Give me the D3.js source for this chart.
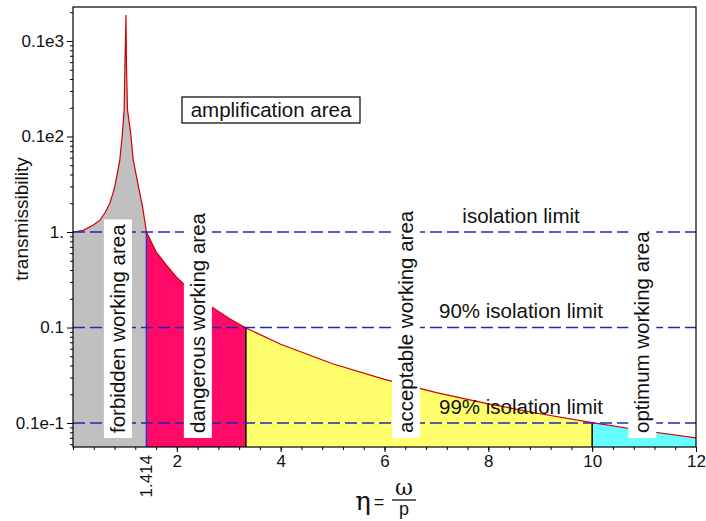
<!DOCTYPE html>
<html>
<head>
<meta charset="utf-8">
<script src="https://cdn.jsdelivr.net/npm/d3@7/dist/d3.min.js"></script>
<style>
  body { margin: 0; background: #fff; }
  svg { display: block; font-family: "Liberation Sans", Arial, sans-serif; }
</style>
</head>
<body>
<div id="chart"></div>
<script>
// frequency ratio eta = omega / p and transmissibility
const eta = [0, 0.2, 0.4, 0.52, 0.62, 0.71, 0.8, 0.9, 0.95, 0.985, 1.0, 1.02,
  1.03, 1.05, 1.11, 1.16, 1.26, 1.34, 1.414, 1.6, 1.8, 2.0, 2.5, 3.0, 3.33,
  4, 5, 6, 7, 8, 9, 10, 11, 12];
const transmissibility = [1.0, 1.04, 1.19, 1.33, 1.6, 2.0, 2.9, 5.6, 10.5, 19, 55, 187,
  55, 19, 10.9, 5.7, 3.0, 1.83, 1.0, 0.62, 0.45, 0.333, 0.19, 0.125, 0.099,
  0.0667, 0.0417, 0.0286, 0.0208, 0.0159, 0.0125, 0.0101, 0.0083, 0.0070];

// working areas: boundaries on the eta axis
const areaBounds = [0, 1.414, 3.33, 10, 12];
const areaNames = ["forbidden working area", "dangerous working area", "acceptable working area", "optimum working area"];
const areaLabelEta = [1.0, 2.54, 6.55, 11.1];

const limitValues = [1, 0.1, 0.01];
const limitNames = ["isolation limit", "90% isolation limit", "99% isolation limit"];

const xTickValues = [2, 4, 6, 8, 10, 12];
const yTickValues = [0.01, 0.1, 1, 10, 100];
const yTickLabels = ["0.1e-1", "0.1", "1.", "0.1e2", "0.1e3"];

const areaColors = ["#c0c0c0", "#ff0a66", "#ffff6e", "#66ffff"];
const dividerColors = ["#3333cc", "#000", "#000"];

const W = 706, H = 521;
const mLeft = 73, mRight = 696, mTop = 7, mBottom = 447;

const svg = d3.select("#chart").append("svg").attr("width", W).attr("height", H);

const x = d3.scaleLinear().domain([0, 12]).range([mLeft, mRight]);
const y = d3.scaleLog().domain([0.00561, 227]).range([mBottom, mTop]);

const pts = eta.map((e, i) => [e, transmissibility[i]]);

svg.append("defs").append("clipPath").attr("id", "plotClip")
  .append("rect").attr("x", mLeft).attr("y", mTop).attr("width", mRight - mLeft).attr("height", mBottom - mTop);

const plot = svg.append("g").attr("clip-path", "url(#plotClip)");

const area = d3.area().x(d => x(d[0])).y0(mBottom).y1(d => y(d[1]));
areaColors.forEach((c, i) => {
  const seg = pts.filter(d => d[0] >= areaBounds[i] && d[0] <= areaBounds[i + 1]);
  plot.append("path").datum(seg).attr("d", area).attr("fill", c);
});

// dividers between areas, up to the curve
[1, 2, 3].forEach((b, i) => {
  const e = areaBounds[b];
  const p = pts.find(d => d[0] === e);
  plot.append("line")
    .attr("x1", x(e)).attr("x2", x(e))
    .attr("y1", mBottom).attr("y2", y(p[1]))
    .attr("stroke", dividerColors[i]).attr("stroke-width", 1.5);
});

plot.append("path").datum(pts)
  .attr("d", d3.line().x(d => x(d[0])).y(d => y(d[1])))
  .attr("fill", "none").attr("stroke", "#d00000").attr("stroke-width", 1.2);

// isolation limits
limitValues.forEach(v => {
  plot.append("line")
    .attr("x1", mLeft).attr("x2", mRight)
    .attr("y1", y(v)).attr("y2", y(v))
    .attr("stroke", "#2626b4").attr("stroke-width", 1.5)
    .attr("stroke-dasharray", "12,5");
});

// vertical area labels on white boxes
areaNames.forEach((name, i) => {
  const g = svg.append("g").attr("transform", `translate(${x(areaLabelEta[i])},${mBottom - 14}) rotate(-90)`);
  const rect = g.append("rect").attr("fill", "#fff");
  const t = g.append("text").attr("x", 0).attr("y", 0)
    .attr("font-size", 20.5).attr("fill", "#111").text(name);
  const len = t.node().getComputedTextLength();
  rect.attr("x", -5).attr("y", -21).attr("width", len + 10).attr("height", 28);
});

limitNames.forEach((name, i) => {
  svg.append("text")
    .attr("x", x(8.63)).attr("y", y(limitValues[i]) - 9.5)
    .attr("text-anchor", "middle").attr("font-size", 20.5).attr("fill", "#111")
    .text(name);
});

// amplification area box
svg.append("rect").attr("x", 182).attr("y", 97).attr("width", 178).attr("height", 26)
  .attr("fill", "#fff").attr("stroke", "#000").attr("stroke-width", 1.2);
svg.append("text").attr("x", 271).attr("y", 117).attr("text-anchor", "middle")
  .attr("font-size", 20.5).attr("fill", "#111").text("amplification area");

// frame
svg.append("rect").attr("x", mLeft).attr("y", mTop).attr("width", mRight - mLeft).attr("height", mBottom - mTop)
  .attr("fill", "none").attr("stroke", "#000").attr("stroke-width", 1.2);

// axes
const styleAxis = g => {
  g.select(".domain").remove();
  g.selectAll("text").attr("font-size", 17).attr("fill", "#111").attr("font-family", "Liberation Sans, Arial, sans-serif");
  g.selectAll("line").attr("stroke", "#000");
};

svg.append("g").attr("transform", `translate(0,${mBottom})`)
  .call(d3.axisBottom(x).tickValues(d3.range(0, 12.01, 0.4)).tickSize(3).tickFormat(""))
  .call(styleAxis);
svg.append("g").attr("transform", `translate(0,${mBottom})`)
  .call(d3.axisBottom(x).tickValues(xTickValues).tickSize(5).tickFormat(d3.format("d")))
  .call(styleAxis);

const minorY = [];
for (let n = -3; n <= 2; n++) for (let k = 2; k <= 9; k++) {
  const v = k * Math.pow(10, n);
  if (v > y.domain()[0] && v < y.domain()[1]) minorY.push(v);
}
svg.append("g").attr("transform", `translate(${mLeft},0)`)
  .call(d3.axisLeft(y).tickValues(minorY).tickSize(3).tickFormat(""))
  .call(styleAxis);
svg.append("g").attr("transform", `translate(${mLeft},0)`)
  .call(d3.axisLeft(y).tickValues(yTickValues).tickSize(6).tickFormat((d, i) => yTickLabels[i]))
  .call(styleAxis);

svg.append("text")
  .attr("transform", `translate(${x(areaBounds[1]) + 6},455) rotate(-90)`)
  .attr("text-anchor", "end").attr("font-size", 17).attr("fill", "#111").text("1.414");

svg.append("text")
  .attr("transform", "translate(28,219) rotate(-90)")
  .attr("text-anchor", "middle").attr("font-size", 19).attr("fill", "#111").text("transmissibility");

// x title: eta = omega / p
const xt = svg.append("g").attr("font-family", "DejaVu Serif, Liberation Serif, serif").attr("fill", "#111");
xt.append("text").attr("x", 363).attr("y", 510).attr("text-anchor", "middle").attr("font-size", 26).text("η");
xt.append("text").attr("x", 379).attr("y", 508).attr("text-anchor", "middle").attr("font-size", 18)
  .attr("font-family", "Liberation Sans, Arial, sans-serif").text("=");
xt.append("text").attr("x", 404).attr("y", 495).attr("text-anchor", "middle").attr("font-size", 22).text("ω");
xt.append("line").attr("x1", 392).attr("x2", 416).attr("y1", 500).attr("y2", 500).attr("stroke", "#111").attr("stroke-width", 1.3);
xt.append("text").attr("x", 404).attr("y", 515).attr("text-anchor", "middle").attr("font-size", 18)
  .attr("font-family", "Liberation Sans, Arial, sans-serif").text("p");
</script>
</body>
</html>
